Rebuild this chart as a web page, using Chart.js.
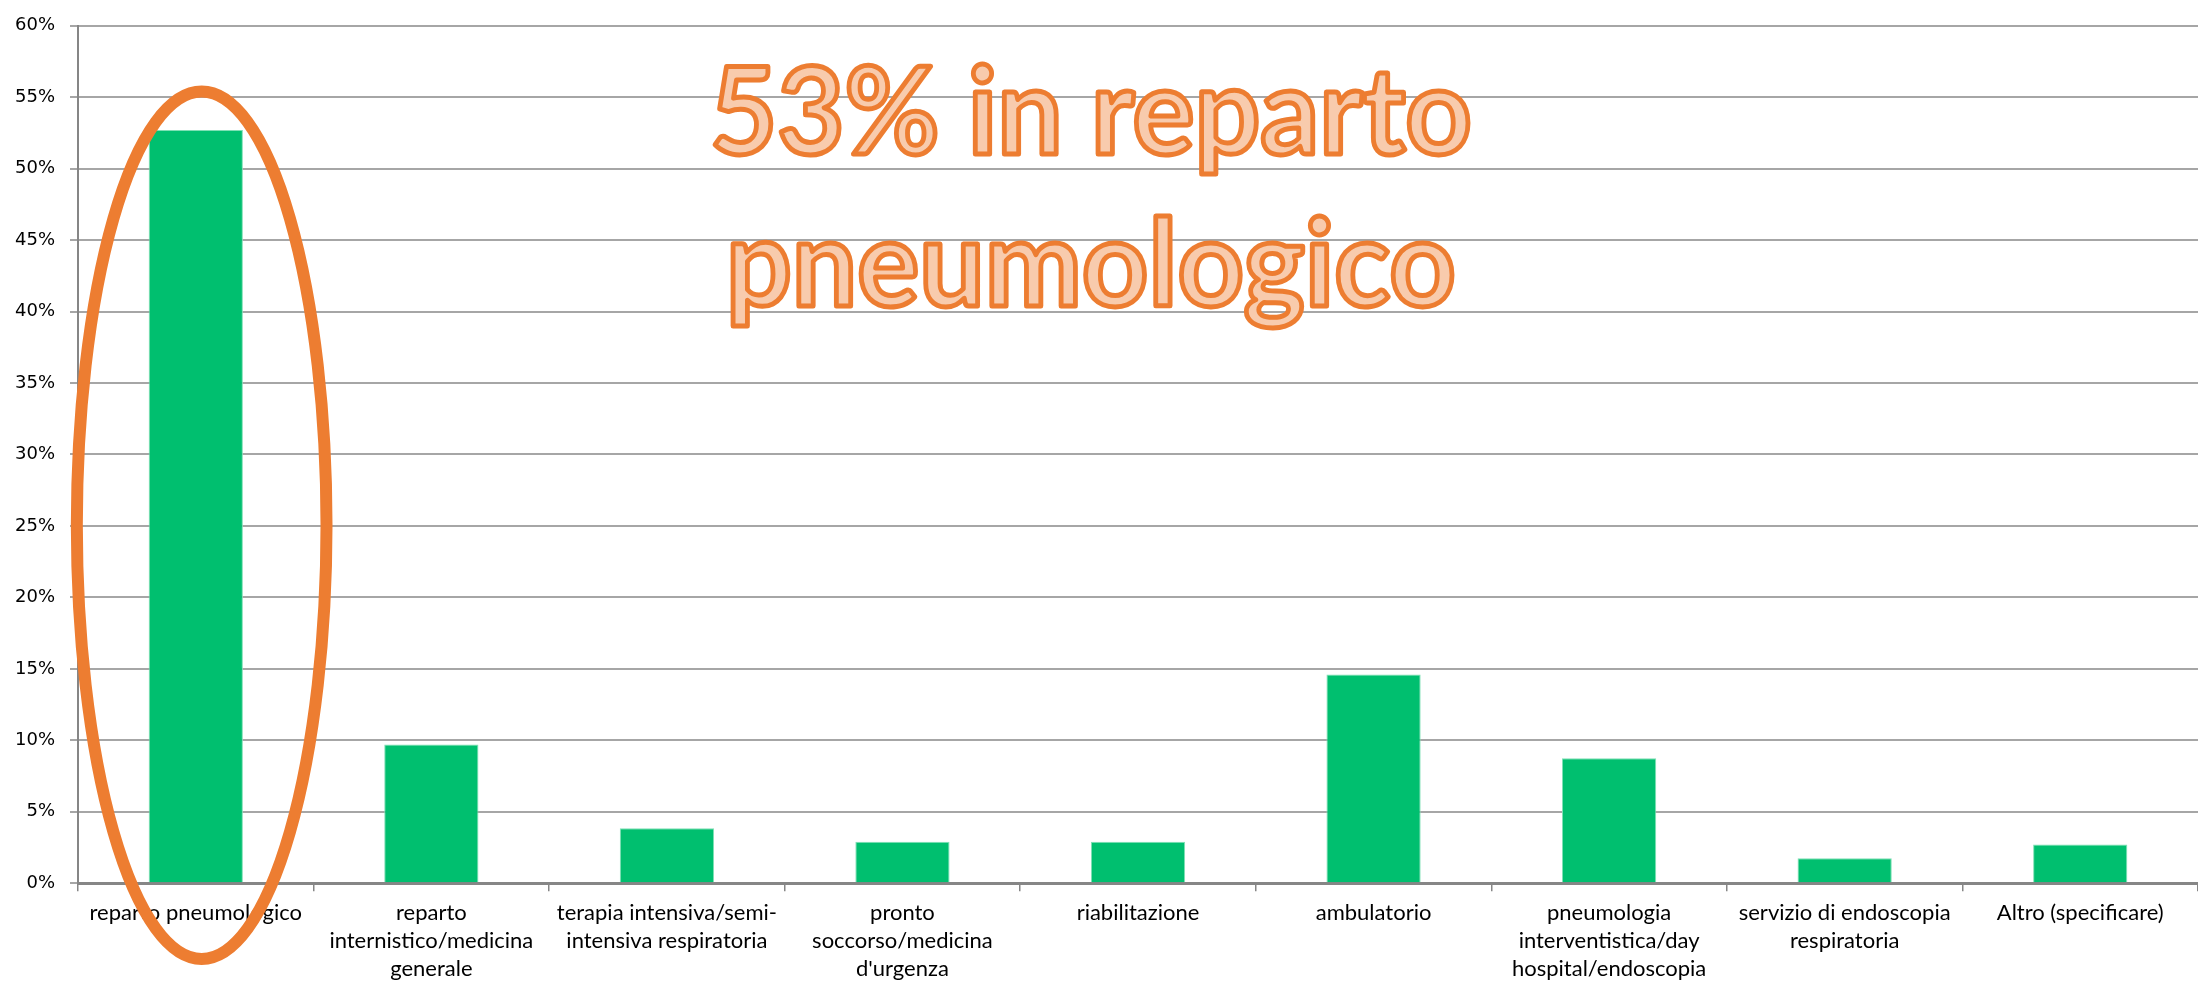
<!DOCTYPE html>
<html>
<head>
<meta charset="utf-8">
<script src="https://cdn.jsdelivr.net/npm/chart.js@4/dist/chart.umd.min.js"></script>
<style>
  html, body { margin: 0; padding: 0; background: #fff; }
  #wrap { width: 2198px; height: 983px; }
</style>
</head>
<body>
<div id="wrap"><canvas id="repartoChart"></canvas></div>
<script>
// categories (multi-line labels as arrays)
const categories = [
    "reparto pneumologico",
    ["reparto", "internistico/medicina", "generale"],
    ["terapia intensiva/semi-", "intensiva respiratoria"],
    ["pronto", "soccorso/medicina", "d'urgenza"],
    "riabilitazione",
    "ambulatorio",
    ["pneumologia", "interventistica/day", "hospital/endoscopia"],
    ["servizio di endoscopia", "respiratoria"],
    "Altro (specificare)",
];
// percentages
const percentages = [52.7, 9.7, 3.85, 2.9, 2.9, 14.6, 8.75, 1.75, 2.7];
const yTicks = [0, 5, 10, 15, 20, 25, 30, 35, 40, 45, 50, 55, 60];
const callout = ["53% in reparto", "pneumologico"];

// orange ellipse around first bar + big outlined text
const calloutPlugin = {
    id: "callout",
    afterDraw(chart) {
        const ctx = chart.ctx;
        const x = chart.scales.x;
        const y = chart.scales.y;
        const catW = (x.right - x.left) / categories.length;

        // ellipse
        const cx = x.getPixelForValue(0) + catW * 0.025;
        const top = y.getPixelForValue(55.4);
        const bottom = y.getPixelForValue(-5.3);
        ctx.save();
        ctx.beginPath();
        ctx.ellipse(cx, (top + bottom) / 2, catW * 0.53, (bottom - top) / 2, 0, 0, Math.PI * 2);
        ctx.lineWidth = 12;
        ctx.strokeStyle = "#ED7D31";
        ctx.stroke();
        ctx.restore();

        // text
        const centerX = x.left + catW * 4.3;
        const baselines = [y.getPixelForValue(51.0), y.getPixelForValue(40.4)];
        const targetW = [762, 730];
        ctx.save();
        ctx.font = "bold 120px Lato";
        ctx.textAlign = "center";
        ctx.textBaseline = "alphabetic";
        ctx.lineJoin = "round";
        callout.forEach(function (line, i) {
            const w = ctx.measureText(line).width;
            const sx = targetW[i] / w;
            ctx.save();
            ctx.translate(centerX, baselines[i]);
            ctx.scale(sx, 1);
            ctx.lineWidth = 5;
            ctx.strokeStyle = "#ED7D31";
            ctx.fillStyle = "#F8CBAD";
            ctx.fillText(line, 0, 0);
            ctx.strokeText(line, 0, 0);
            ctx.restore();
        });
        ctx.restore();
    },
};

document.addEventListener("DOMContentLoaded", function () {
    const ctx = document.getElementById("repartoChart");
    new Chart(ctx, {
        type: "bar",
        data: {
            labels: categories,
            datasets: [
                {
                    data: percentages,
                    backgroundColor: "#00BF6F",
                    borderColor: "#7FE0B5",
                    borderWidth: { top: 1, left: 1, right: 1, bottom: 0 },
                    categoryPercentage: 1.0,
                    barPercentage: 0.4,
                },
            ],
        },
        options: {
            responsive: true,
            maintainAspectRatio: false,
            animation: false,
            layout: { padding: { top: 3, left: 0, right: 0, bottom: -8 } },
            plugins: {
                legend: { display: false },
                tooltip: { enabled: false },
            },
            scales: {
                x: {
                    grid: {
                        offset: true,
                        drawOnChartArea: false,
                        tickLength: 8,
                        color: "#868686",
                        lineWidth: 1.5,
                    },
                    border: { color: "#868686", width: 3 },
                    ticks: {
                        color: "#000",
                        font: { family: "Lato", size: 22, lineHeight: 1.27 },
                        padding: 8,
                        maxRotation: 0,
                        autoSkip: false,
                    },
                },
                y: {
                    min: 0,
                    max: 60,
                    afterBuildTicks: function (axis) {
                        axis.ticks = yTicks.map(function (v) { return { value: v }; });
                    },
                    grid: {
                        color: "#A6A6A6",
                        lineWidth: 2,
                        tickLength: 8,
                    },
                    border: { color: "#868686", width: 2 },
                    ticks: {
                        color: "#000",
                        font: { family: "DejaVu Sans", size: 18 },
                        padding: 15,
                        callback: function (v) { return v + "%"; },
                    },
                },
            },
        },
        plugins: [calloutPlugin],
    });
});
</script>
</body>
</html>
